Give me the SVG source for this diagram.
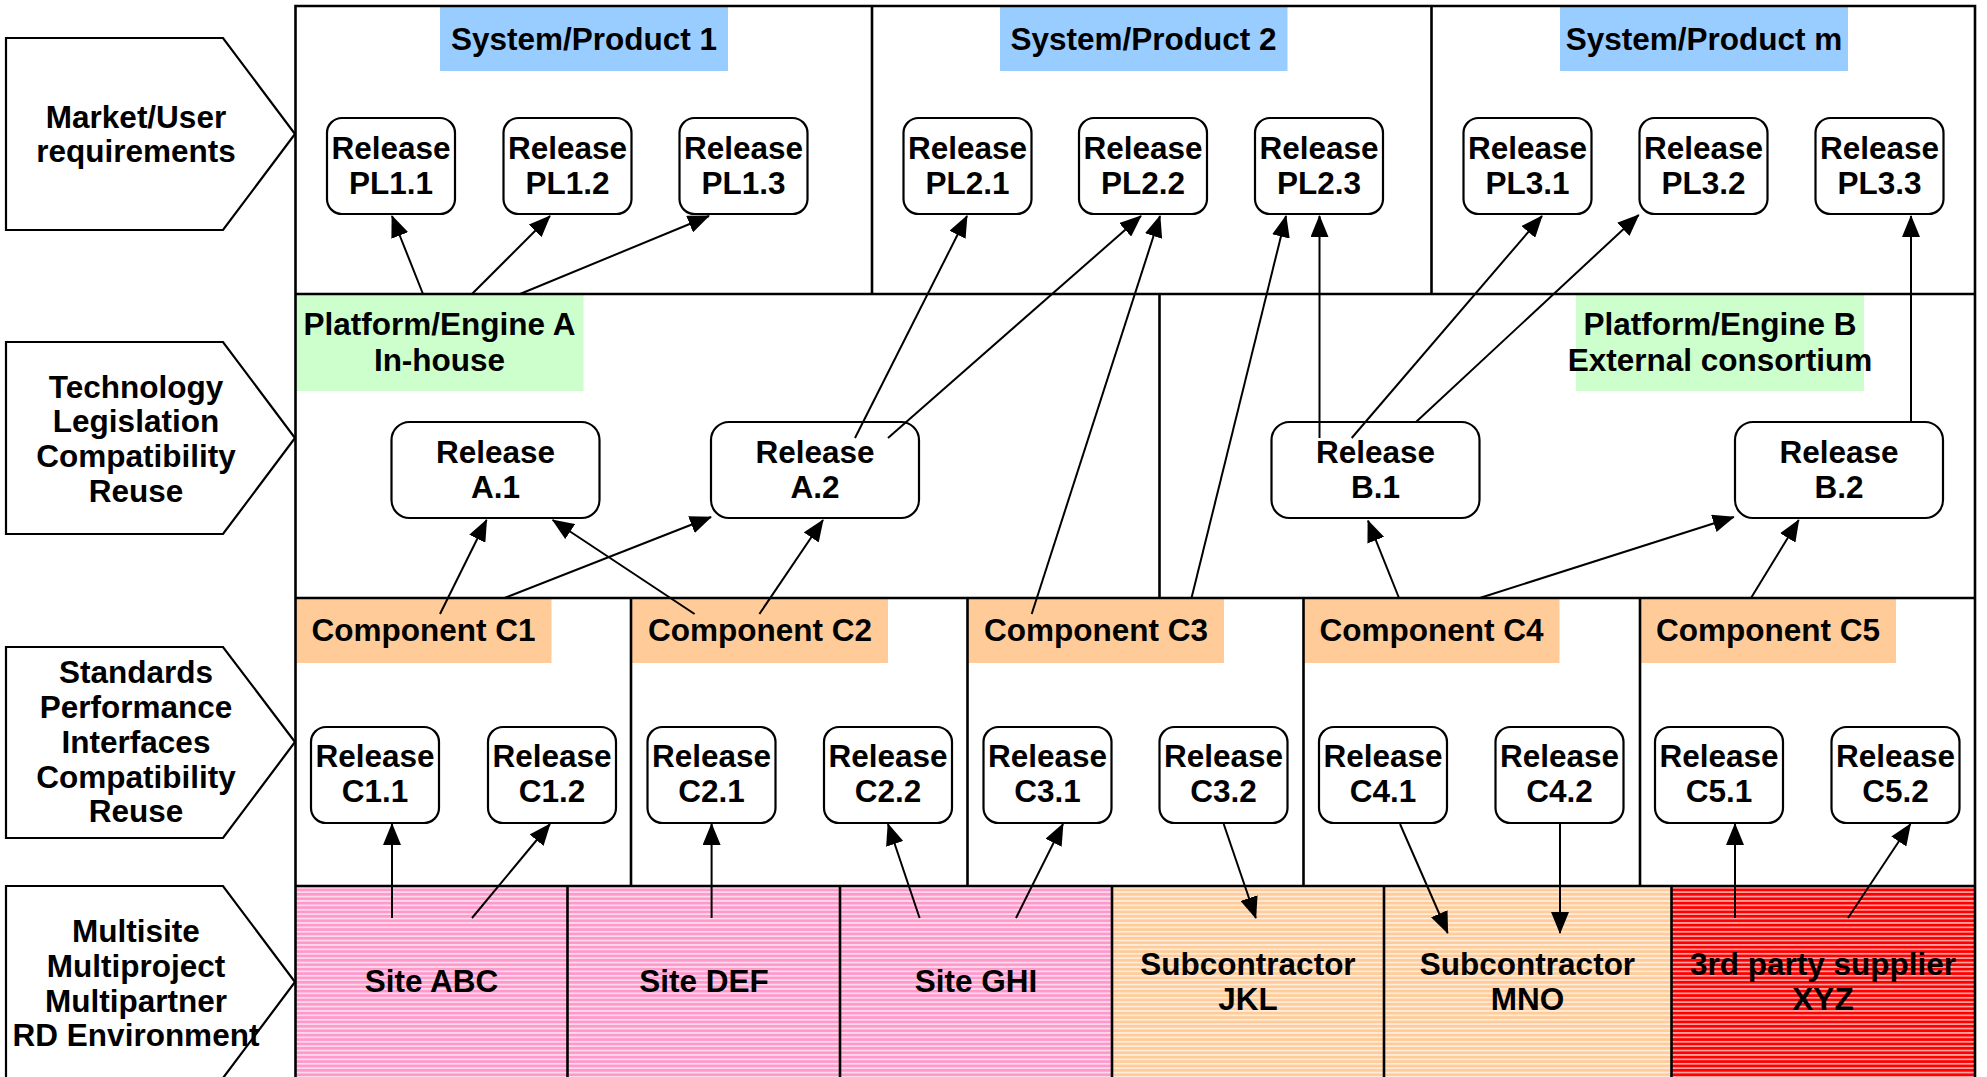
<svg xmlns="http://www.w3.org/2000/svg" width="1987" height="1077" viewBox="0 0 1987 1077">
<style>
.t{font-family:"Liberation Sans",Arial,Helvetica,sans-serif;font-weight:bold;font-size:31.5px;text-anchor:middle;fill:#000}
.box{fill:#fff;stroke:#000;stroke-width:2.2}
.chev{fill:#fff;stroke:#000;stroke-width:2.2}
.fr{stroke:#000;stroke-width:2.6;fill:none}
.con line{stroke:#000;stroke-width:2;marker-end:url(#ah)}
.blue{fill:#99CCFF}
.green{fill:#CCFFCC}
.orange{fill:#FFCC99}
</style>
<defs>
<marker id="ah" markerUnits="userSpaceOnUse" markerWidth="22" markerHeight="18" refX="21" refY="9" orient="auto"><path d="M0,0 L22,9 L0,18 z" fill="#000"/></marker>
<pattern id="pk" patternUnits="userSpaceOnUse" width="20" height="4.4" y="886"><rect width="20" height="4.4" fill="#FF99CC"/><rect y="1.2" width="20" height="1.1" fill="#fff"/></pattern>
<pattern id="og" patternUnits="userSpaceOnUse" width="20" height="4.4" y="886"><rect width="20" height="4.4" fill="#FFCC99"/><rect y="1.2" width="20" height="1.1" fill="#fff"/></pattern>
<pattern id="rd" patternUnits="userSpaceOnUse" width="20" height="4.4" y="886"><rect width="20" height="4.4" fill="#FF0000"/><rect y="1.2" width="20" height="1.1" fill="#fff"/></pattern>
</defs>
<rect width="1987" height="1077" fill="#fff"/>

<!-- left chevrons -->
<g id="lane-market">
<polygon class="chev" points="6,38 223,38 295,134 223,230 6,230"/>
<text class="t" x="136" y="128">Market/User</text>
<text class="t" x="136" y="162">requirements</text>
</g>
<g id="lane-technology">
<polygon class="chev" points="6,342 223,342 295,438 223,534 6,534"/>
<text class="t" x="136" y="398">Technology</text>
<text class="t" x="136" y="432">Legislation</text>
<text class="t" x="136" y="467">Compatibility</text>
<text class="t" x="136" y="502">Reuse</text>
</g>
<g id="lane-standards">
<polygon class="chev" points="6,647 223,647 295,742 223,838 6,838"/>
<text class="t" x="136" y="683">Standards</text>
<text class="t" x="136" y="718">Performance</text>
<text class="t" x="136" y="753">Interfaces</text>
<text class="t" x="136" y="788">Compatibility</text>
<text class="t" x="136" y="822">Reuse</text>
</g>
<g id="lane-environment">
<polygon class="chev" points="6,886 223,886 295,982 223,1078 6,1078"/>
<text class="t" x="136" y="942">Multisite</text>
<text class="t" x="136" y="977">Multiproject</text>
<text class="t" x="136" y="1012">Multipartner</text>
<text class="t" x="136" y="1046">RD Environment</text>
</g>

<!-- environment row fills -->
<g id="sites">
<g id="site-abc"><rect x="295.5" y="886" width="272" height="195" fill="url(#pk)"/><text class="t" x="431.5" y="992">Site ABC</text></g>
<g id="site-def"><rect x="567.5" y="886" width="272.5" height="195" fill="url(#pk)"/><text class="t" x="704" y="992">Site DEF</text></g>
<g id="site-ghi"><rect x="840" y="886" width="272" height="195" fill="url(#pk)"/><text class="t" x="976" y="992">Site GHI</text></g>
<g id="sub-jkl"><rect x="1112" y="886" width="272" height="195" fill="url(#og)"/><text class="t" x="1248" y="975">Subcontractor</text><text class="t" x="1248" y="1010">JKL</text></g>
<g id="sub-mno"><rect x="1384" y="886" width="287.5" height="195" fill="url(#og)"/><text class="t" x="1527.5" y="975">Subcontractor</text><text class="t" x="1527.5" y="1010">MNO</text></g>
<g id="supplier-xyz"><rect x="1671.5" y="886" width="303.5" height="195" fill="url(#rd)"/><text class="t" x="1823" y="975">3rd party supplier</text><text class="t" x="1823" y="1010">XYZ</text></g>
</g>

<!-- header labels -->
<g id="product-1"><rect class="blue" x="440" y="7" width="288" height="64"/><text class="t" x="584" y="50">System/Product 1</text></g>
<g id="product-2"><rect class="blue" x="1000" y="7" width="287.5" height="64"/><text class="t" x="1143.5" y="50">System/Product 2</text></g>
<g id="product-m"><rect class="blue" x="1560" y="7" width="288" height="64"/><text class="t" x="1704" y="50">System/Product m</text></g>
<g id="platform-a"><rect class="green" x="295.5" y="295" width="288" height="96"/><text class="t" x="439.5" y="335">Platform/Engine A</text><text class="t" x="439.5" y="371">In-house</text></g>
<g id="platform-b"><rect class="green" x="1576" y="295" width="288" height="96"/><text class="t" x="1720" y="335">Platform/Engine B</text><text class="t" x="1720" y="371">External consortium</text></g>
<g id="component-c1"><rect class="orange" x="295.5" y="599" width="256" height="64"/><text class="t" x="423.5" y="641">Component C1</text></g>
<g id="component-c2"><rect class="orange" x="632" y="599" width="256" height="64"/><text class="t" x="760" y="641">Component C2</text></g>
<g id="component-c3"><rect class="orange" x="968" y="599" width="256" height="64"/><text class="t" x="1096" y="641">Component C3</text></g>
<g id="component-c4"><rect class="orange" x="1303.5" y="599" width="256" height="64"/><text class="t" x="1431.5" y="641">Component C4</text></g>
<g id="component-c5"><rect class="orange" x="1640" y="599" width="256" height="64"/><text class="t" x="1768" y="641">Component C5</text></g>

<!-- frame -->
<g id="frame" class="fr">
<path d="M295.5,1080 V6 H1975 V1080"/>
<path d="M295.5,294 H1975 M295.5,598 H1975 M295.5,886 H1975"/>
<path d="M872,6 V294 M1431.5,6 V294"/>
<path d="M1159.5,294 V598"/>
<path d="M631,598 V886 M967.5,598 V886 M1303.5,598 V886 M1640,598 V886"/>
<path d="M567.5,886 V1080 M840,886 V1080 M1112,886 V1080 M1384,886 V1080 M1671.5,886 V1080"/>
</g>

<!-- product releases -->
<g id="rel-pl1-1"><rect class="box" x="327" y="118" width="128" height="96" rx="15"/><text class="t" x="391" y="159">Release</text><text class="t" x="391" y="194">PL1.1</text></g>
<g id="rel-pl1-2"><rect class="box" x="503.5" y="118" width="128" height="96" rx="15"/><text class="t" x="567.5" y="159">Release</text><text class="t" x="567.5" y="194">PL1.2</text></g>
<g id="rel-pl1-3"><rect class="box" x="679.5" y="118" width="128" height="96" rx="15"/><text class="t" x="743.5" y="159">Release</text><text class="t" x="743.5" y="194">PL1.3</text></g>
<g id="rel-pl2-1"><rect class="box" x="903.5" y="118" width="128" height="96" rx="15"/><text class="t" x="967.5" y="159">Release</text><text class="t" x="967.5" y="194">PL2.1</text></g>
<g id="rel-pl2-2"><rect class="box" x="1079" y="118" width="128" height="96" rx="15"/><text class="t" x="1143" y="159">Release</text><text class="t" x="1143" y="194">PL2.2</text></g>
<g id="rel-pl2-3"><rect class="box" x="1255" y="118" width="128" height="96" rx="15"/><text class="t" x="1319" y="159">Release</text><text class="t" x="1319" y="194">PL2.3</text></g>
<g id="rel-pl3-1"><rect class="box" x="1463.5" y="118" width="128" height="96" rx="15"/><text class="t" x="1527.5" y="159">Release</text><text class="t" x="1527.5" y="194">PL3.1</text></g>
<g id="rel-pl3-2"><rect class="box" x="1639.5" y="118" width="128" height="96" rx="15"/><text class="t" x="1703.5" y="159">Release</text><text class="t" x="1703.5" y="194">PL3.2</text></g>
<g id="rel-pl3-3"><rect class="box" x="1815.5" y="118" width="128" height="96" rx="15"/><text class="t" x="1879.5" y="159">Release</text><text class="t" x="1879.5" y="194">PL3.3</text></g>

<!-- platform releases -->
<g id="rel-a1"><rect class="box" x="391.5" y="422" width="208" height="96" rx="18"/><text class="t" x="495.5" y="463">Release</text><text class="t" x="495.5" y="498">A.1</text></g>
<g id="rel-a2"><rect class="box" x="711" y="422" width="208" height="96" rx="18"/><text class="t" x="815" y="463">Release</text><text class="t" x="815" y="498">A.2</text></g>
<g id="rel-b1"><rect class="box" x="1271.5" y="422" width="208" height="96" rx="18"/><text class="t" x="1375.5" y="463">Release</text><text class="t" x="1375.5" y="498">B.1</text></g>
<g id="rel-b2"><rect class="box" x="1735" y="422" width="208" height="96" rx="18"/><text class="t" x="1839" y="463">Release</text><text class="t" x="1839" y="498">B.2</text></g>

<!-- component releases -->
<g id="rel-c1-1"><rect class="box" x="311" y="727" width="128" height="96" rx="15"/><text class="t" x="375" y="767">Release</text><text class="t" x="375" y="802">C1.1</text></g>
<g id="rel-c1-2"><rect class="box" x="488" y="727" width="128" height="96" rx="15"/><text class="t" x="552" y="767">Release</text><text class="t" x="552" y="802">C1.2</text></g>
<g id="rel-c2-1"><rect class="box" x="647.5" y="727" width="128" height="96" rx="15"/><text class="t" x="711.5" y="767">Release</text><text class="t" x="711.5" y="802">C2.1</text></g>
<g id="rel-c2-2"><rect class="box" x="824" y="727" width="128" height="96" rx="15"/><text class="t" x="888" y="767">Release</text><text class="t" x="888" y="802">C2.2</text></g>
<g id="rel-c3-1"><rect class="box" x="983.5" y="727" width="128" height="96" rx="15"/><text class="t" x="1047.5" y="767">Release</text><text class="t" x="1047.5" y="802">C3.1</text></g>
<g id="rel-c3-2"><rect class="box" x="1159.5" y="727" width="128" height="96" rx="15"/><text class="t" x="1223.5" y="767">Release</text><text class="t" x="1223.5" y="802">C3.2</text></g>
<g id="rel-c4-1"><rect class="box" x="1319" y="727" width="128" height="96" rx="15"/><text class="t" x="1383" y="767">Release</text><text class="t" x="1383" y="802">C4.1</text></g>
<g id="rel-c4-2"><rect class="box" x="1495.5" y="727" width="128" height="96" rx="15"/><text class="t" x="1559.5" y="767">Release</text><text class="t" x="1559.5" y="802">C4.2</text></g>
<g id="rel-c5-1"><rect class="box" x="1655" y="727" width="128" height="96" rx="15"/><text class="t" x="1719" y="767">Release</text><text class="t" x="1719" y="802">C5.1</text></g>
<g id="rel-c5-2"><rect class="box" x="1831.5" y="727" width="128" height="96" rx="15"/><text class="t" x="1895.5" y="767">Release</text><text class="t" x="1895.5" y="802">C5.2</text></g>

<!-- connectors -->
<g id="connectors" class="con">
<line x1="423" y1="294" x2="392" y2="216"/>
<line x1="472" y1="294" x2="550" y2="216"/>
<line x1="520" y1="294" x2="709" y2="216"/>
<line x1="855" y1="438" x2="967" y2="216"/>
<line x1="888" y1="438" x2="1141" y2="216"/>
<line x1="1031.7" y1="614" x2="1160" y2="216"/>
<line x1="1191.5" y1="598" x2="1286" y2="216"/>
<line x1="1319.5" y1="438" x2="1319.5" y2="216"/>
<line x1="1351.7" y1="438" x2="1542" y2="216"/>
<line x1="1416" y1="422" x2="1638.7" y2="215"/>
<line x1="1911" y1="422" x2="1911" y2="216"/>
<line x1="440" y1="614" x2="486.6" y2="520"/>
<line x1="504.5" y1="598" x2="711" y2="517"/>
<line x1="694.6" y1="614" x2="552.7" y2="520"/>
<line x1="759.4" y1="614" x2="823" y2="520"/>
<line x1="1399" y1="598" x2="1368" y2="520.7"/>
<line x1="1479.7" y1="598" x2="1733.8" y2="517"/>
<line x1="1751" y1="598" x2="1798.7" y2="520"/>
<line x1="392" y1="918" x2="392" y2="824"/>
<line x1="472" y1="918" x2="550" y2="824"/>
<line x1="711.6" y1="918" x2="711.6" y2="824"/>
<line x1="919.6" y1="918" x2="888" y2="824"/>
<line x1="1016" y1="918" x2="1063" y2="824"/>
<line x1="1223.7" y1="824" x2="1255.8" y2="918"/>
<line x1="1400" y1="824" x2="1447.7" y2="933"/>
<line x1="1560" y1="824" x2="1560" y2="933"/>
<line x1="1735" y1="918" x2="1735" y2="824"/>
<line x1="1848" y1="918" x2="1910.4" y2="824"/>
</g>
</svg>
